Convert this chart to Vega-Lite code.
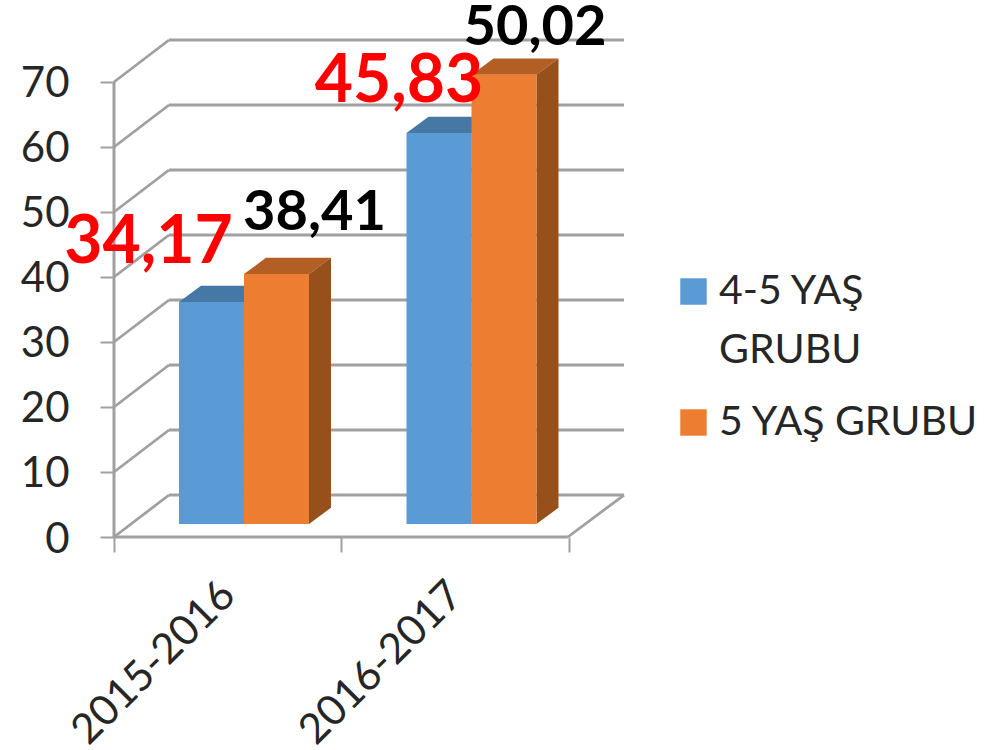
{
"$schema":"https://vega.github.io/schema/vega-lite/v6.json",
"width":893,"height":537,
"autosize":"none",
"padding":{"left":114,"top":0,"right":0,"bottom":213},
"background":"white",
"config":{"view":{"stroke":null},"font":"Lato"},
"datasets":{
 "bars":[
  {"year":"2015-2016","group":"4-5 YAŞ GRUBU","value":34.15,"label":"34,17"},
  {"year":"2015-2016","group":"5 YAŞ GRUBU","value":38.45,"label":"38,41"},
  {"year":"2016-2017","group":"4-5 YAŞ GRUBU","value":60.15,"label":"45,83"},
  {"year":"2016-2017","group":"5 YAŞ GRUBU","value":69.1,"label":"50,02"}
 ],
 "levels":[{"level":0},{"level":10},{"level":20},{"level":30},{"level":40},{"level":50},{"level":60},{"level":70}]
},
"layer":[
 {"data":{"name":"levels"},
  "mark":{"type":"rule","color":"#A0A0A0","strokeWidth":2.8},
  "transform":[{"calculate":"datum.level+6.46","as":"backLevel"}],
  "encoding":{
   "x":{"datum":0,"type":"quantitative","scale":{"domain":[0,3.9253],"nice":false,"zero":false},
        "axis":{"title":null,"grid":false,"domain":false,"values":[0,0.5,1,1.5,2],
          "labelExpr":"datum.value==0.5?'2015-2016':datum.value==1.5?'2016-2017':''",
          "labelAngle":-45,"labelAlign":"right","labelBaseline":"middle","labelFontSize":42,"labelColor":"#262626","labelPadding":36,"labelLimit":400,"labelOverlap":false,"labelBound":false,"labelFlush":false,
          "tickSize":15,"tickColor":"#A0A0A0","tickWidth":2,"tickOpacity":{"condition":{"test":"datum.value%1!=0","value":0},"value":1}}},
   "x2":{"datum":0.2418},
   "y":{"field":"level","type":"quantitative","scale":{"domain":[0,82.615],"nice":false,"zero":false},
        "axis":{"title":null,"grid":false,"domain":false,"values":[0,10,20,30,40,50,60,70],
          "labelFontSize":42,"labelColor":"#262626","labelPadding":31,"labelOffset":2,"labelOverlap":false,"labelBound":false,"labelFlush":false,
          "tickSize":14,"tickColor":"#A0A0A0","tickWidth":2}},
   "y2":{"field":"backLevel"}
  }},
 {"data":{"name":"levels"},
  "mark":{"type":"rule","color":"#A0A0A0","strokeWidth":2.8},
  "transform":[{"calculate":"datum.level+6.46","as":"backLevel"}],
  "encoding":{
   "x":{"datum":0.2418,"type":"quantitative"},
   "x2":{"datum":2.2418},
   "y":{"field":"backLevel","type":"quantitative"}
  }},
 {"data":{"values":[{"edge":"front"}]},
  "mark":{"type":"rule","color":"#A0A0A0","strokeWidth":3},
  "encoding":{"x":{"datum":0,"type":"quantitative"},"x2":{"datum":1.995},"y":{"datum":0,"type":"quantitative"}}},
 {"data":{"values":[{"edge":"left"}]},
  "mark":{"type":"rule","color":"#A0A0A0","strokeWidth":3},
  "encoding":{"x":{"datum":0,"type":"quantitative"},"y":{"datum":0,"type":"quantitative"},"y2":{"datum":70}}},
 {"data":{"values":[{"edge":"floor"}]},
  "mark":{"type":"rule","color":"#A0A0A0","strokeWidth":2.8},
  "encoding":{"x":{"datum":1.995,"type":"quantitative"},"x2":{"datum":2.2418},"y":{"datum":0,"type":"quantitative"},"y2":{"datum":6.46}}},
 {"data":{"name":"bars"},
  "transform":[
   {"calculate":"(datum.year=='2015-2016'?0:1)+(datum.group=='5 YAŞ GRUBU'?2:1)*0.2857","as":"left"},
   {"calculate":"datum.left+0.2857","as":"right"},
   {"calculate":"datum.value+2","as":"top"},
   {"calculate":"[0,1]","as":"t"},{"flatten":["t"]},
   {"calculate":"datum.left+datum.t*0.0967","as":"ax"},
   {"calculate":"datum.right+datum.t*0.0967","as":"ax2"},
   {"calculate":"datum.top+datum.t*2.5","as":"ay"}
  ],
  "mark":{"type":"area","orient":"horizontal"},
  "encoding":{
   "x":{"field":"ax","type":"quantitative","stack":false},
   "x2":{"field":"ax2"},
   "y":{"field":"ay","type":"quantitative","stack":false},
   "detail":{"field":"label"},
   "color":{"condition":{"test":"datum.group=='5 YAŞ GRUBU'","value":"#B35E24"},"value":"#4678A5"}
  }},
 {"data":{"name":"bars"},
  "transform":[
   {"calculate":"(datum.year=='2015-2016'?0:1)+(datum.group=='5 YAŞ GRUBU'?2:1)*0.2857+0.2857","as":"right"},
   {"calculate":"datum.value+2","as":"top"},
   {"calculate":"[0,1]","as":"t"},{"flatten":["t"]},
   {"calculate":"datum.right+datum.t*0.0967","as":"ax"},
   {"calculate":"datum.top+datum.t*2.5","as":"ay"},
   {"calculate":"2+datum.t*2.5","as":"ay2"}
  ],
  "mark":{"type":"area","orient":"vertical"},
  "encoding":{
   "x":{"field":"ax","type":"quantitative","stack":false},
   "y":{"field":"ay","type":"quantitative","stack":false},
   "y2":{"field":"ay2"},
   "detail":{"field":"label"},
   "color":{"condition":{"test":"datum.group=='5 YAŞ GRUBU'","value":"#974F1C"},"value":"#3A6A95"}
  }},
 {"data":{"name":"bars"},
  "transform":[
   {"calculate":"(datum.year=='2015-2016'?0:1)+(datum.group=='5 YAŞ GRUBU'?2:1)*0.2857","as":"left"},
   {"calculate":"datum.left+0.2857","as":"right"},
   {"calculate":"datum.value+2","as":"top"},
   {"calculate":"2","as":"base"}
  ],
  "mark":{"type":"rect"},
  "encoding":{
   "x":{"field":"left","type":"quantitative"},
   "x2":{"field":"right"},
   "y":{"field":"base","type":"quantitative"},
   "y2":{"field":"top"},
   "color":{"field":"group","type":"nominal",
     "scale":{"domain":["4-5 YAŞ GRUBU","5 YAŞ GRUBU"],"range":["#5B9BD5","#ED7D31"]},
     "legend":{"title":null,"orient":"none","legendX":559,"legendY":271,"symbolType":"square","symbolSize":700,"symbolOpacity":1,"symbolStrokeWidth":0,
       "labelFontSize":41,"labelColor":"#262626","labelLimit":400,"labelOffset":5,"rowPadding":30,
       "labelExpr":"datum.label=='4-5 YAŞ GRUBU'?['4-5 YAŞ','GRUBU']:datum.label",
       "encode":{"labels":{"update":{"lineHeight":{"value":59}}}}}}
  }},
 {"data":{"name":"bars"},
  "transform":[
   {"calculate":"(datum.year=='2015-2016'?0:1)+(datum.group=='5 YAŞ GRUBU'?2:1)*0.2857+0.14285","as":"center"},
   {"calculate":"{'34,17':[-63,59],'38,41':[38,61],'45,83':[-40,51],'50,02':[31,47]}[datum.label]","as":"off"},
   {"calculate":"datum.center+datum.off[0]/227.5","as":"lx"},
   {"calculate":"datum.value+2+datum.off[1]/6.5","as":"ly"}
  ],
  "mark":{"type":"text","fontWeight":"bold","align":"center","baseline":"middle"},
  "encoding":{
   "x":{"field":"lx","type":"quantitative"},
   "y":{"field":"ly","type":"quantitative"},
   "text":{"field":"label"},
   "color":{"condition":{"test":"datum.group=='5 YAŞ GRUBU'","value":"#000000"},"value":"#FF0000"},
   "size":{"condition":{"test":"datum.group=='5 YAŞ GRUBU'","value":56},"value":66}
  }}
]
}
